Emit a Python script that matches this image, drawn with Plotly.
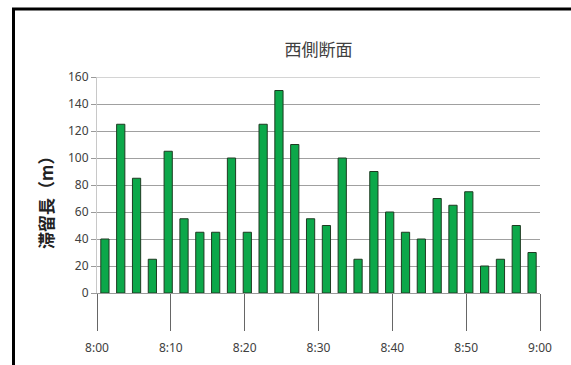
import plotly.graph_objects as go

# Queue length (m) observed on the west cross-section, 8:00-9:00
queue_length = [40, 125, 85, 25, 105, 55, 45, 45, 100, 45, 125, 150, 110, 55,
                50, 100, 25, 90, 60, 45, 40, 70, 65, 75, 20, 25, 50, 30]
bar_index = list(range(len(queue_length)))

# Time axis (minutes after 8:00) and its labels
time_minutes = [0, 10, 20, 30, 40, 50, 60]
time_labels = ["8:00", "8:10", "8:20", "8:30", "8:40", "8:50", "9:00"]

y_ticks = [0, 20, 40, 60, 80, 100, 120, 140, 160]

FONT = "Noto Sans CJK JP"
TEXT = "#404040"

fig = go.Figure()
fig.add_trace(go.Bar(
    x=bar_index,
    y=queue_length,
    marker=dict(color="#0CA84A", line=dict(color="#1E3B22", width=1)),
    xaxis="x",
    yaxis="y",
    showlegend=False,
    hoverinfo="y",
))
# invisible trace that carries the time axis
fig.add_trace(go.Scatter(
    x=[time_minutes[0], time_minutes[-1]], y=[0, 0],
    xaxis="x2", yaxis="y", mode="markers",
    marker=dict(opacity=0), showlegend=False, hoverinfo="skip",
))

fig.update_layout(
    width=571,
    height=365,
    margin=dict(l=97, r=31, t=77, b=72, autoexpand=False),
    paper_bgcolor="white",
    plot_bgcolor="white",
    bargap=0.48,
    title=dict(
        text="西側断面",
        x=(97 + 540) / 2 / 571, xanchor="center",
        y=1 - 50 / 365, yanchor="middle",
        font=dict(family=FONT, size=17, color=TEXT),
    ),
    font=dict(family=FONT, color=TEXT),
    xaxis=dict(
        range=[-0.5, len(queue_length) - 0.5],
        showticklabels=False,
        ticks="",
        showgrid=False,
        zeroline=False,
        showline=True,
        linecolor="#9a9a9a",
        linewidth=1,
        automargin=False,
    ),
    xaxis2=dict(
        overlaying="x",
        anchor="y",
        side="bottom",
        range=[time_minutes[0], time_minutes[-1]],
        tickmode="array",
        tickvals=time_minutes,
        ticktext=time_labels,
        ticks="outside",
        ticklen=37,
        tickwidth=1,
        tickcolor="#666666",
        ticklabelstandoff=7,
        tickfont=dict(family="Noto Sans", size=12, color=TEXT),
        showgrid=False,
        zeroline=False,
        showline=False,
        automargin=False,
    ),
    yaxis=dict(
        range=[0, 160],
        tickmode="array",
        tickvals=y_ticks,
        ticks="outside",
        ticklen=5,
        tickcolor="#9a9a9a",
        tickfont=dict(family="Noto Sans", size=12, color=TEXT),
        showgrid=True,
        gridcolor="#a0a0a0",
        gridwidth=1,
        zeroline=False,
        showline=True,
        linecolor="#c8c8c8",
        linewidth=1,
        automargin=False,
    ),
    annotations=[
        # y-axis title, set slightly below the plot's mid-height
        dict(text="<b>滞留長（m）</b>", textangle=-90,
             xref="paper", yref="paper",
             x=(45 - 97) / 443, y=(293 - 199) / 216,
             xanchor="center", yanchor="middle", showarrow=False,
             font=dict(family=FONT, size=17, color="#222222")),
    ],
    shapes=[
        # lighter top gridline
        dict(type="line", xref="paper", yref="y", x0=0, x1=1, y0=160, y1=160,
             line=dict(color="#d4d4d4", width=2), layer="above"),
        # chart frame
        dict(type="rect", xref="paper", yref="paper",
             x0=(13.5 - 97) / 443, x1=1.5,
             y0=-0.6, y1=(293 - 9) / 216,
             line=dict(color="black", width=3), layer="above"),
    ],
)

fig.write_html("out.html")
